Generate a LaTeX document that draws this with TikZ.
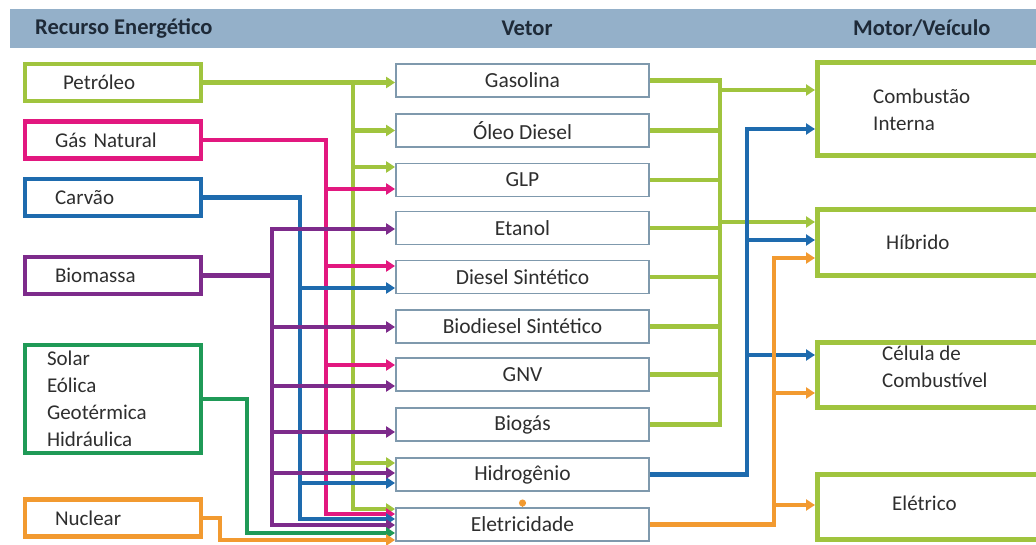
\documentclass[tikz,border=0pt]{standalone}
\usepackage{fontspec}
\setmainfont{Carlito}
\usetikzlibrary{arrows.meta,calc}
\definecolor{limec}{HTML}{A0C43E}
\definecolor{magc}{HTML}{E2187F}
\definecolor{bluc}{HTML}{1E6BAE}
\definecolor{purc}{HTML}{7D2B8B}
\definecolor{grnc}{HTML}{1F9A57}
\definecolor{orac}{HTML}{F29A30}
\definecolor{vbord}{HTML}{7F99AD}
\definecolor{headc}{HTML}{94B0C9}
\definecolor{txtc}{HTML}{2E2E2E}
\definecolor{htxt}{HTML}{1E2A38}
\tikzset{
  lbox/.style={draw, line width=4.5pt, minimum height=37pt, align=left, inner xsep=30pt, text width=116pt, inner ysep=0pt, font=\fontsize{21}{27}\selectfont, text=txtc},
  vbox/.style={draw=vbord, line width=1.8pt, minimum width=253pt, minimum height=33pt, font=\fontsize{21.5}{24}\selectfont, text=txtc, fill=white},
  rbox/.style={draw=limec, line width=5pt, minimum width=233pt},
  rtxt/.style={anchor=west, align=left, font=\fontsize{21}{27}\selectfont, text=txtc, inner sep=0pt},
  htext/.style={font=\bfseries\fontsize{22.5}{24}\selectfont, text=htxt, inner sep=0pt},
  conn/.style={line width=4.5pt},
  arr/.style={line width=4.5pt, -{Triangle[length=9pt,width=11pt]}},
  bus/.style={line width=4.5pt, line cap=rect}
}
\begin{document}
\begin{tikzpicture}[x=1pt,y=-1pt]
\useasboundingbox (0,0) rectangle (1036,545);
\clip (0,0) rectangle (1036,545);
% header
\fill[headc] (10,9) rectangle (1036,48);
\node[htext, anchor=west] (h1) at (35,28) {Recurso Energético};
\node[htext] (h2) at (527,28) {Vetor};
\node[htext, anchor=west] (h3) at (853,28) {Motor/Veículo};
% left boxes
\node[lbox, draw=limec, inner xsep=38pt, text width=100pt] (pet) at (113,82.5) {Petróleo};
\node[lbox, draw=magc] (gn) at (113,140) {Gás Natural};
\node[lbox, draw=bluc] (car) at (113,197.5) {Carvão};
\node[lbox, draw=purc] (bm) at (113,275.5) {Biomassa};
\node[lbox, draw=grnc, minimum height=108pt, inner xsep=22pt, text width=132pt] (sol) at (113,399) {Solar\\Eólica\\Geotérmica\\Hidráulica};
\node[lbox, draw=orac] (nuc) at (113,518) {Nuclear};
% middle boxes
\node[vbox] (gas) at (522.5,80.5) {Gasolina};
\node[vbox] (od)  at (522.5,130.5) {Óleo Diesel};
\node[vbox] (glp) at (522.5,180) {GLP};
\node[vbox] (eta) at (522.5,228) {Etanol};
\node[vbox] (ds)  at (522.5,277) {Diesel Sintético};
\node[vbox] (bds) at (522.5,326.5) {Biodiesel Sintético};
\node[vbox] (gnv) at (522.5,374.5) {GNV};
\node[vbox] (bio) at (522.5,424.5) {Biogás};
\node[vbox] (hid) at (522.5,474.5) {Hidrogênio};
\node[vbox] (ele) at (522.5,524.5) {Eletricidade};
% right boxes
\node[rbox, minimum height=93pt] (comb) at (934,109) {};
\node[rbox, minimum height=66pt] (hib) at (934,242.5) {};
\node[rbox, minimum height=65pt] (cel) at (934,375) {};
\node[rbox, minimum height=65pt] (elv) at (934,507) {};
\node[rtxt] (combt) at (873,110) {Combustão\\Interna};
\node[rtxt] (hibt) at (886,242) {Híbrido};
\node[rtxt] (celt) at (882,367) {Célula de\\Combustível};
\node[rtxt] (elvt) at (892,503) {Elétrico};
% bus coordinates
\coordinate (gb) at (353,0);
\coordinate (mb) at (326,0);
\coordinate (bb) at (300,0);
\coordinate (pb) at (272,0);
\coordinate (sb) at (247,0);
\coordinate (ob) at (220,0);
\coordinate (rg) at (720,0);
\coordinate (rbl) at (747,0);
\coordinate (ro) at (774,0);
% Petroleo
\draw[arr,limec] (pet.east) -| (gb |- 0,509) -- (ele.west |- 0,509);
\draw[arr,limec] (gb |- pet.east) -- (gas.west |- pet.east);
\draw[arr,limec] (gb |- od.west) -- (od.west);
\draw[arr,limec] (gb |- 0,167) -- (glp.west |- 0,167);
\draw[arr,limec] (gb |- 0,463) -- (hid.west |- 0,463);
% Gas natural
\draw[arr,magc] (gn.east) -| (mb |- 0,514) -- (ele.west |- 0,514);
\draw[arr,magc] (mb |- 0,189) -- (glp.west |- 0,189);
\draw[arr,magc] (mb |- 0,266) -- (ds.west |- 0,266);
\draw[arr,magc] (mb |- 0,365) -- (gnv.west |- 0,365);
% Carvao
\draw[arr,bluc] (car.east) -| (bb |- 0,519) -- (ele.west |- 0,519);
\draw[arr,bluc] (bb |- 0,288) -- (ds.west |- 0,288);
\draw[arr,bluc] (bb |- 0,483) -- (hid.west |- 0,483);
% Biomassa
\draw[conn,purc] (bm.east) -- (pb |- bm.east);
\draw[bus,purc] (pb |- 0,229) -- (pb |- 0,525);
\draw[arr,purc] (pb |- 0,229) -- (eta.west |- 0,229);
\draw[arr,purc] (pb |- 0,327) -- (bds.west |- 0,327);
\draw[arr,purc] (pb |- 0,386) -- (gnv.west |- 0,386);
\draw[arr,purc] (pb |- 0,432) -- (bio.west |- 0,432);
\draw[arr,purc] (pb |- 0,473) -- (hid.west |- 0,473);
\draw[arr,purc] (pb |- 0,525) -- (ele.west |- 0,525);
% Solar etc
\draw[arr,grnc] (sol.east) -| (sb |- 0,533) -- (ele.west |- 0,533);
% Nuclear
\draw[arr,orac] (nuc.east) -| (ob |- 0,540) -- (ele.west |- 0,540);
% right side green
\foreach \n in {od,glp,eta,ds,bds,gnv} {\draw[conn,limec] (\n.east) -- (rg |- \n.east);}
\draw[conn,limec] (gas.east) -| (rg |- bio.east) -- (bio.east);
\draw[arr,limec] (rg |- 0,90) -- (comb.west |- 0,90);
\draw[arr,limec] (rg |- 0,222) -- (hib.west |- 0,222);
% right side blue (hidrogenio)
\draw[arr,bluc] (hid.east) -| (rbl |- 0,129) -- (comb.west |- 0,129);
\draw[arr,bluc] (rbl |- 0,240) -- (hib.west |- 0,240);
\draw[arr,bluc] (rbl |- 0,355) -- (cel.west |- 0,355);
% right side orange (eletricidade)
\draw[arr,orac] (ele.east) -| (ro |- 0,258) -- (hib.west |- 0,258);
\draw[arr,orac] (ro |- 0,393) -- (cel.west |- 0,393);
\draw[arr,orac] (ro |- 0,505) -- (elv.west |- 0,505);
% eletricidade -> hidrogenio
\draw[orac, line width=1.5pt, -{Circle[length=7pt]}] (ele.north) -- ($(ele.north)!0.5!(hid.south)$);
\end{tikzpicture}
\end{document}
